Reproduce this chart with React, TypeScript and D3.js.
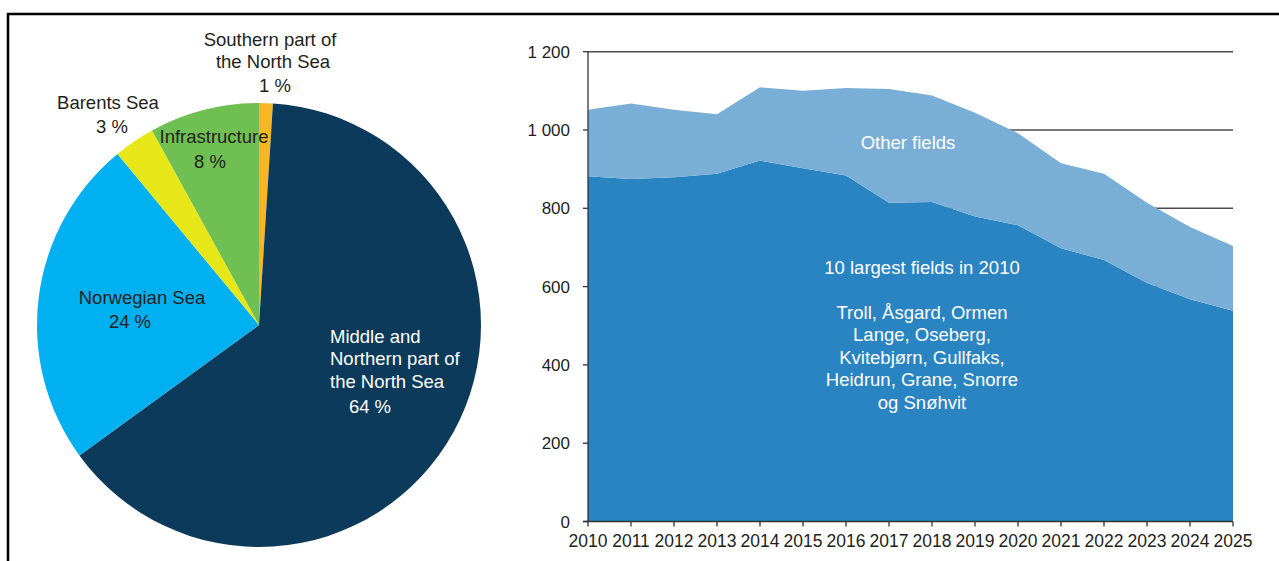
import * as d3 from 'd3';

// pie: share of remaining resources by area (clockwise from 12 o'clock)
const pieLabels = ['Southern part of the North Sea', 'Middle and Northern part of the North Sea', 'Norwegian Sea', 'Barents Sea', 'Infrastructure'];
const pieValues = [1, 64, 24, 3, 8];
const pieColors = ['#f8b624', '#0b3a5b', '#00b0f0', '#e6e619', '#6fbf52'];

// area chart
const years = [2010, 2011, 2012, 2013, 2014, 2015, 2016, 2017, 2018, 2019, 2020, 2021, 2022, 2023, 2024, 2025];
const largestFields = [882, 875, 879, 888, 922, 902, 884, 814, 816, 779, 757, 698, 668, 609, 568, 538];
const otherFields = [170, 193, 173, 152, 187, 198, 223, 291, 272, 265, 235, 217, 220, 205, 184, 166];
const yTicks = [0, 200, 400, 600, 800, 1000, 1200];

const FONT = 'Arial, "Liberation Sans", sans-serif';
const TEXT = '#231f20';
const LABEL_SIZE = 18.5;

const fmt = d3.formatLocale({ decimal: ',', thousands: '\u00a0', grouping: [3], currency: ['', ''] }).format(',');

function PieChart() {
    const cx = 259, cy = 325, r = 222;
    const arcs = d3.pie<number>().sort(null).startAngle(0).endAngle(2 * Math.PI)(pieValues);
    const arc = d3.arc<d3.PieArcDatum<number>>().innerRadius(0).outerRadius(r);
    return <g>
        <g transform={`translate(${cx},${cy})`}>
            {arcs.map((a, i) => <path key={pieLabels[i]} d={arc(a) ?? ''} fill={pieColors[i]} />)}
        </g>
        <g fontFamily={FONT} fontSize={LABEL_SIZE} fill={TEXT} textAnchor="middle">
            <text x={270} y={46}>Southern part of</text>
            <text x={273} y={68}>the North Sea</text>
            <text x={275} y={92}>1 %</text>
            <text x={108} y={109}>Barents Sea</text>
            <text x={112} y={133}>3 %</text>
            <text x={214} y={143}>Infrastructure</text>
            <text x={210} y={168}>8 %</text>
            <text x={142} y={304}>Norwegian Sea</text>
            <text x={130} y={328}>24 %</text>
        </g>
        <g fontFamily={FONT} fontSize={LABEL_SIZE} fill="#ffffff">
            <text x={330} y={343}>Middle and</text>
            <text x={330} y={365}>Northern part of</text>
            <text x={330} y={388}>the North Sea</text>
            <text x={370} y={413} textAnchor="middle">64 %</text>
        </g>
    </g>;
}

function AreaChart() {
    const x = d3.scaleLinear().domain([2010, 2025]).range([588, 1233]);
    const y = d3.scaleLinear().domain([0, 1200]).range([521.5, 51.7]);
    const rows = years.map((yr, i) => ({ year: yr, largest: largestFields[i], other: otherFields[i] }));
    const series = d3.stack<any>().keys(['largest', 'other'])(rows);
    const area = d3.area<any>()
        .x(d => x(d.data.year))
        .y0(d => y(d[0]))
        .y1(d => y(d[1]));
    const colors = ['#2a84c2', '#79afd6'];
    const [x0, x1] = x.range();
    const [yb, yt] = y.range();

    return <g fontFamily={FONT}>
        {yTicks.filter(t => t > 0).map(t =>
            <line key={t} x1={x0} x2={x1} y1={y(t)} y2={y(t)} stroke="#4d4d4d" strokeWidth={1.4} />)}
        {series.map((s, i) => <path key={s.key} d={area(s) ?? ''} fill={colors[i]} />)}

        <line x1={x0} x2={x0} y1={yt} y2={yb} stroke="#333" strokeWidth={1.3} />
        <line x1={x0 - 5} x2={x1} y1={yb} y2={yb} stroke="#333" strokeWidth={1.3} />
        {yTicks.map(t => <g key={t}>
            <line x1={x0 - 5} x2={x0} y1={y(t)} y2={y(t)} stroke="#333" strokeWidth={1.3} />
            <text x={570} y={y(t) + 6} textAnchor="end" fontSize={17} fill={TEXT}>{fmt(t)}</text>
        </g>)}
        {years.map(yr => <g key={yr}>
            <line x1={x(yr)} x2={x(yr)} y1={yb} y2={yb + 5} stroke="#333" strokeWidth={1.3} />
            <text x={x(yr)} y={547} textAnchor="middle" fontSize={17.5} fill={TEXT}>{yr}</text>
        </g>)}

        <g fill="#ffffff" fontSize={LABEL_SIZE} textAnchor="middle">
            <text x={908} y={149}>Other fields</text>
            <text x={922} y={274}>10 largest fields in 2010</text>
            <text x={922} y={319}>Troll, Åsgard, Ormen</text>
            <text x={922} y={341}>Lange, Oseberg,</text>
            <text x={922} y={364}>Kvitebjørn, Gullfaks,</text>
            <text x={922} y={386}>Heidrun, Grane, Snorre</text>
            <text x={922} y={409}>og Snøhvit</text>
        </g>
    </g>;
}

export default function App() {
    return <svg width={1279} height={561} style={{ position: 'absolute', left: 0, top: 0, background: '#fff' }}>
        <rect width={1279} height={561} fill="#ffffff" />
        <PieChart />
        <AreaChart />
        <path d="M8,561 V14 H1279" fill="none" stroke="#000" strokeWidth={2.5} />
    </svg>;
}
